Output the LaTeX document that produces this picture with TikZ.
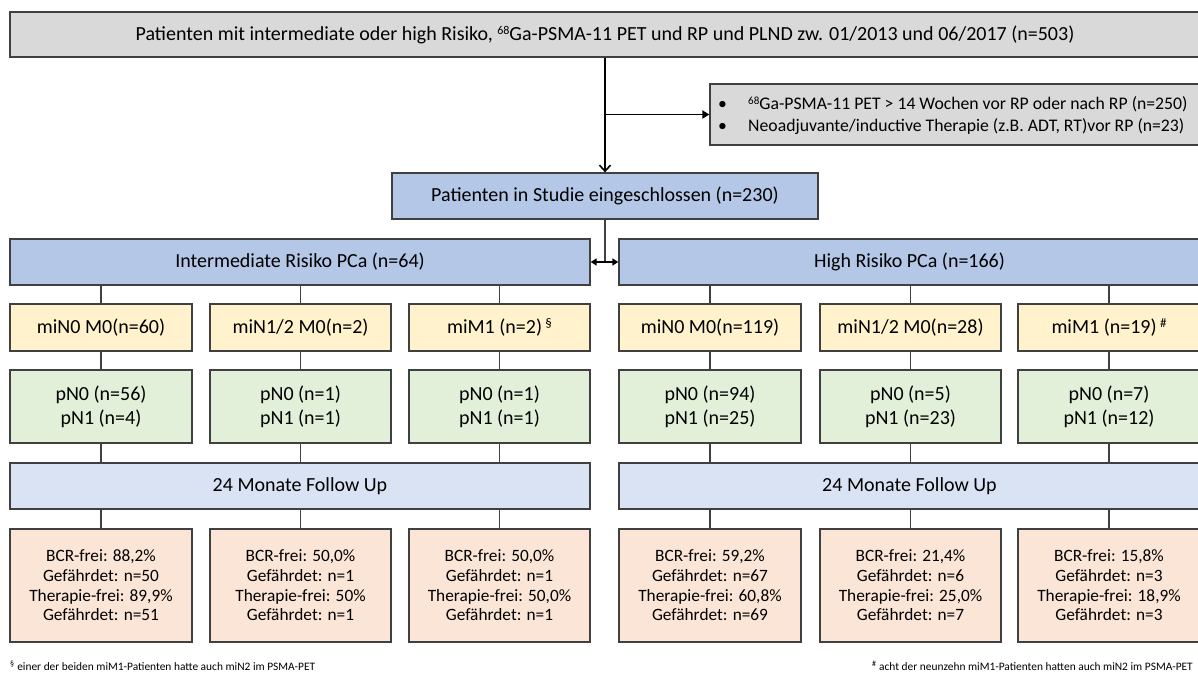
\documentclass[tikz,border=0pt]{standalone}
\usepackage{fontspec}
\setmainfont{Carlito}
\usetikzlibrary{arrows.meta}

\definecolor{edge}{HTML}{404040}
\definecolor{greybox}{HTML}{D9D9D9}
\definecolor{bluebox}{HTML}{B4C7E7}
\definecolor{yellowbox}{HTML}{FFF2CC}
\definecolor{greenbox}{HTML}{E2F0D9}
\definecolor{palebox}{HTML}{DAE3F3}
\definecolor{peachbox}{HTML}{FBE5D6}

\newcommand{\mainsize}{\fontsize{20}{24}\selectfont}
\newcommand{\listsize}{\fontsize{17.7}{21.7}\selectfont}
\newcommand{\resultsize}{\fontsize{17.3}{19.6}\selectfont}
\newcommand{\notesize}{\fontsize{11.4}{13}\selectfont}
% small raised marks (isotope mass numbers, footnote signs)
\newcommand{\upmark}[3]{\raisebox{#1}{\fontsize{#2}{#2}\selectfont #3}}

\tikzset{
  box/.style={draw=edge, line width=1.3pt, inner sep=0pt, align=center, font=\mainsize},
  grey/.style={box, fill=greybox},
  blue/.style={box, fill=bluebox},
  yellow/.style={box, fill=yellowbox, minimum height=47pt},
  green/.style={box, fill=greenbox, minimum height=73pt},
  pale/.style={box, fill=palebox, minimum height=46pt},
  peach/.style={box, fill=peachbox, minimum height=113pt, font=\resultsize},
  link/.style={draw=edge, line width=1.1pt},
  mainarrow/.style={draw=black, line width=1.8pt},
}

\begin{document}
\begin{tikzpicture}[x=1pt, y=-1pt]
\useasboundingbox (0,0) rectangle (1198,681);

% screening and exclusion
\node[grey, minimum width=1190pt, minimum height=45pt] (top) at (605,34.5)
  {Patienten mit intermediate oder high Risiko, \upmark{6pt}{12}{68}Ga-PSMA-11 PET und RP und PLND zw. 01/2013 und 06/2017 (n=503)};
\node[grey, minimum width=490pt, minimum height=61pt] (excl) at (955,114.5) {};
\node[anchor=west, inner sep=0pt, align=left, font=\listsize] (excltext) at (718,115.5)
  {\makebox[30pt][l]{•}\upmark{5pt}{11}{68}Ga-PSMA-11 PET > 14 Wochen vor RP oder nach RP (n=250)\\
   \makebox[30pt][l]{•}Neoadjuvante/inductive Therapie (z.B. ADT, RT)vor RP (n=23)};
\node[blue, minimum width=426pt, minimum height=46pt] (incl) at (605,196)
  {Patienten in Studie eingeschlossen (n=230)};

% risk groups
\node[blue, minimum width=580pt, minimum height=46pt] (inter) at (300,262) {Intermediate Risiko PCa (n=64)};
\node[blue, minimum width=581pt, minimum height=46pt] (high) at (909.5,262) {High Risiko PCa (n=166)};

% imaging stage
\node[yellow, minimum width=182pt] (mi1) at (101,327.5) {miN0 M0(n=60)};
\node[yellow, minimum width=181pt] (mi2) at (300.5,327.5) {miN1/2 M0(n=2)};
\node[yellow, minimum width=181pt] (mi3) at (499.5,327.5) {miM1 (n=2)\,\upmark{6.5pt}{13}{§}};
\node[yellow, minimum width=182pt] (mi4) at (710,327.5) {miN0 M0(n=119)};
\node[yellow, minimum width=181pt] (mi5) at (910.5,327.5) {miN1/2 M0(n=28)};
\node[yellow, minimum width=182pt] (mi6) at (1109,327.5) {miM1 (n=19)\,\upmark{6.5pt}{13}{\#}};

% pathological stage
\node[green, minimum width=182pt] (pn1) at (101,406.5) {pN0 (n=56)\\pN1 (n=4)};
\node[green, minimum width=181pt] (pn2) at (300.5,406.5) {pN0 (n=1)\\pN1 (n=1)};
\node[green, minimum width=181pt] (pn3) at (499.5,406.5) {pN0 (n=1)\\pN1 (n=1)};
\node[green, minimum width=182pt] (pn4) at (710,406.5) {pN0 (n=94)\\pN1 (n=25)};
\node[green, minimum width=181pt] (pn5) at (910.5,406.5) {pN0 (n=5)\\pN1 (n=23)};
\node[green, minimum width=182pt] (pn6) at (1109,406.5) {pN0 (n=7)\\pN1 (n=12)};

% follow-up
\node[pale, minimum width=580pt] (fuA) at (300,486) {24 Monate Follow Up};
\node[pale, minimum width=581pt] (fuB) at (909.5,486) {24 Monate Follow Up};

% outcomes
\node[peach, minimum width=182pt] (res1) at (101,585.5) {BCR-frei: 88,2\%\\Gefährdet: n=50\\Therapie-frei: 89,9\%\\Gefährdet: n=51};
\node[peach, minimum width=181pt] (res2) at (300.5,585.5) {BCR-frei: 50,0\%\\Gefährdet: n=1\\Therapie-frei: 50\%\\Gefährdet: n=1};
\node[peach, minimum width=181pt] (res3) at (499.5,585.5) {BCR-frei: 50,0\%\\Gefährdet: n=1\\Therapie-frei: 50,0\%\\Gefährdet: n=1};
\node[peach, minimum width=182pt] (res4) at (710,585.5) {BCR-frei: 59,2\%\\Gefährdet: n=67\\Therapie-frei: 60,8\%\\Gefährdet: n=69};
\node[peach, minimum width=181pt] (res5) at (910.5,585.5) {BCR-frei: 21,4\%\\Gefährdet: n=6\\Therapie-frei: 25,0\%\\Gefährdet: n=7};
\node[peach, minimum width=182pt] (res6) at (1109,585.5) {BCR-frei: 15,8\%\\Gefährdet: n=3\\Therapie-frei: 18,9\%\\Gefährdet: n=3};

% footnotes
\node[anchor=base west, inner sep=0pt, font=\notesize] (noteA) at (10,670)
  {\textsuperscript{§} einer der beiden miM1-Patienten hatte auch miN2 im PSMA-PET};
\node[anchor=base east, inner sep=0pt, font=\notesize] (noteB) at (1193,670)
  {\textsuperscript{\#} acht der neunzehn miM1-Patienten hatten auch miN2 im PSMA-PET};

% flow arrows
\draw[mainarrow, -{Straight Barb[length=6pt, width=11pt, line width=1.6pt]}] (top.south) -- (incl.north);
\draw[mainarrow, -{Triangle[length=7pt, width=8pt]}] (top.south |- excl.west) -- (excl.west);
\draw[link] (incl.south) -- (incl.south |- inter.east);
\draw[mainarrow, line width=1.5pt, {Triangle[length=6pt, width=7pt]}-{Triangle[length=6pt, width=7pt]}] (inter.east) -- (high.west);

% branches
\foreach \k in {1,2,3} {
  \draw[link] (inter.south -| mi\k.north) -- (mi\k.north);
  \draw[link] (mi\k.south) -- (pn\k.north);
  \draw[link] (pn\k.south) -- (pn\k.south |- fuA.north);
  \draw[link] (fuA.south -| res\k.north) -- (res\k.north);
}
\foreach \k in {4,5,6} {
  \draw[link] (high.south -| mi\k.north) -- (mi\k.north);
  \draw[link] (mi\k.south) -- (pn\k.north);
  \draw[link] (pn\k.south) -- (pn\k.south |- fuB.north);
  \draw[link] (fuB.south -| res\k.north) -- (res\k.north);
}
\end{tikzpicture}
\end{document}
